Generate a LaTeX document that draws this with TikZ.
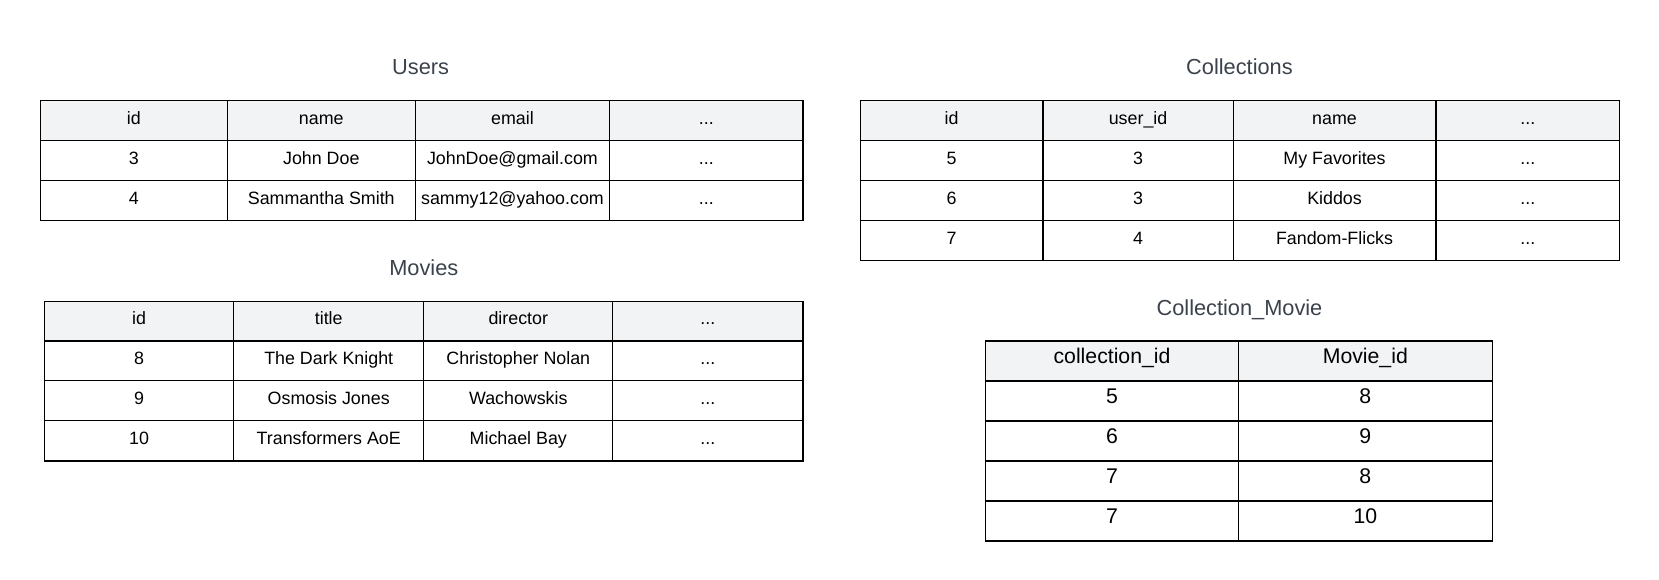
\documentclass[tikz,border=0pt]{standalone}
\usepackage{fontspec}
\setmainfont{Liberation Sans}
\definecolor{headgray}{HTML}{F2F3F5}
\definecolor{titlegray}{HTML}{3B424B}
\newcommand{\etcdots}{...}
\begin{document}
\begin{tikzpicture}[x=1pt, y=-1pt,
        tabline/.style={line width=1.1pt},
        celltext/.style={font=\fontsize{16.8}{20}\selectfont, text height=12pt, text depth=4pt, inner sep=0pt},
        bigtext/.style={font=\fontsize{20}{24}\selectfont, text height=10pt, text depth=4.4pt, inner sep=0pt},
        tabtitle/.style={font=\fontsize{20.5}{24}\selectfont, text=titlegray, anchor=base, inner sep=0pt}]
        \useasboundingbox (0,0) rectangle (1562,546);
        % Users
        \node[tabtitle] (users) at (396,70.5) {Users};
        \fill[headgray] (38,94.5) rectangle (756,132);
        \foreach \y in {132,169.8} \draw[tabline] (38,\y) -- (756,\y);
        \foreach \x in {214,391,574} \draw[tabline] (\x,94.5) -- (\x,207.5);
        \draw[tabline] (38,94.5) rectangle (756,207.5);
        \foreach \x/\a/\b/\c [count=\i] in {126/id/3/4, 302.5/name/John Doe/Sammantha Smith, 482.5/email/JohnDoe@gmail.com/sammy12@yahoo.com, 665/\etcdots/\etcdots/\etcdots} {
            \node[celltext] (users-0-\i) at (\x,113.25) {\a};
            \node[celltext] (users-1-\i) at (\x,150.9) {\b};
            \node[celltext] (users-2-\i) at (\x,188.65) {\c};
        }
        % Movies
        \node[tabtitle] (movies) at (399,259.5) {Movies};
        \fill[headgray] (42,283.5) rectangle (756,321);
        \foreach \y in {321,358.5,396} \draw[tabline] (42,\y) -- (756,\y);
        \foreach \x in {220,399,577} \draw[tabline] (\x,283.5) -- (\x,434);
        \draw[tabline] (42,283.5) rectangle (756,434);
        \foreach \x/\a/\b/\c/\d [count=\i] in {131/id/8/9/10, 309.5/title/The Dark Knight/Osmosis Jones/Transformers AoE, 488/director/Christopher Nolan/Wachowskis/Michael Bay, 666.5/\etcdots/\etcdots/\etcdots/\etcdots} {
            \node[celltext] (movies-0-\i) at (\x,301.5) {\a};
            \node[celltext] (movies-1-\i) at (\x,339) {\b};
            \node[celltext] (movies-2-\i) at (\x,376.5) {\c};
            \node[celltext] (movies-3-\i) at (\x,414.2) {\d};
        }
        % Collections
        \node[tabtitle] (collections) at (1167,70.5) {Collections};
        \fill[headgray] (810,94.5) rectangle (1525,132);
        \foreach \y in {132,169.8,207.5} \draw[tabline] (810,\y) -- (1525,\y);
        \foreach \x in {982,1161,1352} \draw[tabline] (\x,94.5) -- (\x,245.2);
        \draw[tabline] (810,94.5) rectangle (1525,245.2);
        \foreach \x/\a/\b/\c/\d [count=\i] in {896/id/5/6/7, 1071.5/user\_id/3/3/4, 1256.5/name/My Favorites/Kiddos/Fandom-Flicks, 1438.5/\etcdots/\etcdots/\etcdots/\etcdots} {
            \node[celltext] (coll-0-\i) at (\x,113.25) {\a};
            \node[celltext] (coll-1-\i) at (\x,150.9) {\b};
            \node[celltext] (coll-2-\i) at (\x,188.65) {\c};
            \node[celltext] (coll-3-\i) at (\x,226.35) {\d};
        }
        % Collection_Movie
        \node[tabtitle] (collmovie) at (1167,297) {Collection\_Movie};
        \fill[headgray] (928,321) rectangle (1405,358.7);
        \foreach \y in {358.7,396.3,434,471.7} \draw[tabline] (928,\y) -- (1405,\y);
        \draw[tabline] (1166,321) -- (1166,509.4);
        \draw[tabline] (928,321) rectangle (1405,509.4);
        \foreach \x/\a/\b/\c/\d/\e [count=\i] in {1047/collection\_id/5/6/7/7, 1285.5/Movie\_id/8/9/8/10} {
            \node[bigtext] (cm-0-\i) at (\x,339.85) {\a};
            \node[bigtext] (cm-1-\i) at (\x,377.5) {\b};
            \node[bigtext] (cm-2-\i) at (\x,415.15) {\c};
            \node[bigtext] (cm-3-\i) at (\x,452.85) {\d};
            \node[bigtext] (cm-4-\i) at (\x,490.55) {\e};
        }
    \end{tikzpicture}
\end{document}
